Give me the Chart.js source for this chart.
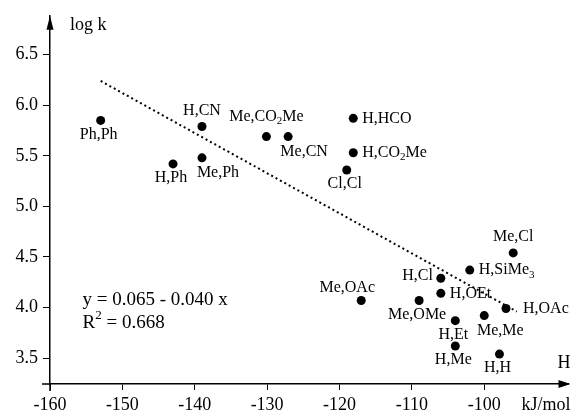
<!DOCTYPE html>
<html>
<head>
<meta charset="utf-8">
<script src="https://cdn.jsdelivr.net/npm/chart.js@4.4.1/dist/chart.umd.min.js"></script>
<style>
  html, body { margin: 0; padding: 0; background: #fff; }
</style>
</head>
<body>
<canvas id="chart" width="573" height="413"></canvas>
<script>
/* ---- Data ---- */
// substituent pairs; "_" marks a subscript character
const pairs = [
  'Ph,Ph', 'H,CN', 'H,Ph', 'Me,Ph', 'Me,CO_2Me', 'Me,CN', 'H,HCO',
  'H,CO_2Me', 'Cl,Cl', 'Me,Cl', 'H,SiMe_3', 'H,Cl', 'H,OEt', 'Me,OAc',
  'Me,OMe', 'H,OAc', 'Me,Me', 'H,Et', 'H,Me', 'H,H',
];
// energy (kJ/mol)
const energy = [
  -153.0, -139.0, -143.0, -139.0, -130.1, -127.1, -118.1,
  -118.1, -119.0, -96.0, -102.0, -106.0, -106.0, -117.0,
  -109.0, -97.0, -100.0, -104.0, -104.0, -97.9,
];
const logK = [
  5.85, 5.79, 5.42, 5.48, 5.69, 5.69, 5.87,
  5.53, 5.36, 4.54, 4.37, 4.29, 4.14, 4.07,
  4.07, 3.99, 3.92, 3.87, 3.62, 3.54,
];
// where each label sits around its point
const labelSpot = [
  'b', 'a', 'b', 'br', 'a', 'br', 'r',
  'r', 'b', 'a', 'r', 'l', 'r', 'al',
  'b', 'rr', 'br', 'b', 'b', 'b',
];

/* ---- Dotted regression line as drawn ---- */
const fitX = [-153.0, -95.5];
const fitY = [6.24, 3.96];
const fitText = ['y = 0.065 - 0.040 x', 'R^2 = 0.668'];

const xTicks = [-160, -150, -140, -130, -120, -110, -100];
const yTicks = [3.5, 4.0, 4.5, 5.0, 5.5, 6.0, 6.5];

const SERIF = '"Liberation Serif", "Times New Roman", serif';

/* ------------------------------------------------------------------ */
/*  Rich text helpers (sub / superscripts)                             */
/* ------------------------------------------------------------------ */

function richParts(str) {
  const parts = [];
  let buf = '';
  for (let i = 0; i < str.length; i++) {
    const c = str[i];
    if ((c === '_' || c === '^') && i + 1 < str.length) {
      if (buf) parts.push({ t: buf, k: 0 });
      buf = '';
      parts.push({ t: str[i + 1], k: c === '_' ? 1 : -1 });
      i++;
    } else {
      buf += c;
    }
  }
  if (buf) parts.push({ t: buf, k: 0 });
  return parts;
}

function drawRich(ctx, str, x, y, size, align) {
  const parts = richParts(str);
  const small = Math.round(size * 0.7);
  const fontFor = (k) => `${k ? small : size}px ${SERIF}`;
  let w = 0;
  for (const p of parts) {
    ctx.font = fontFor(p.k);
    p.w = ctx.measureText(p.t).width;
    w += p.w;
  }
  let cx = align === 'left' ? x : align === 'right' ? x - w : x - w / 2;
  ctx.textAlign = 'left';
  ctx.textBaseline = 'middle';
  for (const p of parts) {
    ctx.font = fontFor(p.k);
    const dy = p.k === 1 ? size * 0.3 : p.k === -1 ? -size * 0.35 : 0;
    ctx.fillText(p.t, cx, y + dy);
    cx += p.w;
  }
}

/* ---- Label placements relative to the marker ---- */
const SPOTS = {
  b:  { dx: -2,  dy: 14,  align: 'center' },
  a:  { dx: 0,   dy: -16, align: 'center' },
  br: { dx: 16,  dy: 15,  align: 'center' },
  al: { dx: -14, dy: -13, align: 'center' },
  r:  { dx: 9,   dy: 0,   align: 'left' },
  rr: { dx: 17,  dy: 0,   align: 'left' },
  l:  { dx: -8,  dy: -2,  align: 'right' },
};

const labelPlugin = {
  id: 'pointLabels',
  afterDatasetsDraw(chart) {
    const ctx = chart.ctx;
    const meta = chart.getDatasetMeta(0);
    ctx.save();
    ctx.fillStyle = '#000';
    meta.data.forEach((pt, i) => {
      const s = SPOTS[labelSpot[i]];
      let dy = s.dy;
      if (s.dy < 0 && pairs[i].includes('_')) dy -= 4;
      drawRich(ctx, pairs[i], pt.x + s.dx, pt.y + dy, 16, s.align);
    });
    ctx.restore();
  },
};

/* ---- Axis arrows, axis titles and fit text ---- */
const decorPlugin = {
  id: 'decor',
  afterDraw(chart) {
    const { ctx, chartArea: a, scales } = chart;
    ctx.save();
    ctx.fillStyle = '#000';
    ctx.strokeStyle = '#000';
    ctx.lineWidth = 1.5;

    // small overshoot of the axes past the origin
    ctx.beginPath();
    ctx.moveTo(a.left - 8, a.bottom);
    ctx.lineTo(a.left, a.bottom);
    ctx.moveTo(a.left, a.bottom);
    ctx.lineTo(a.left, a.bottom + 7);
    ctx.stroke();

    // y arrow
    ctx.beginPath();
    ctx.moveTo(a.left, a.top);
    ctx.lineTo(a.left - 3.5, a.top + 14);
    ctx.lineTo(a.left + 3.5, a.top + 14);
    ctx.closePath();
    ctx.fill();

    // x arrow
    ctx.beginPath();
    ctx.moveTo(a.right + 2, a.bottom);
    ctx.lineTo(a.right - 10, a.bottom - 4);
    ctx.lineTo(a.right - 10, a.bottom + 4);
    ctx.closePath();
    ctx.fill();

    // axis titles
    ctx.textBaseline = 'middle';
    ctx.textAlign = 'left';
    ctx.font = `18px ${SERIF}`;
    ctx.fillText('log k', a.left + 20, a.top + 9);
    ctx.textAlign = 'right';
    ctx.fillText('H', a.right + 2, a.bottom - 21);
    ctx.textBaseline = 'alphabetic';
    ctx.fillText('kJ/mol', a.right + 2, a.bottom + 26);

    // regression text
    const tx = scales.x.getPixelForValue(-155.5);
    drawRich(ctx, fitText[0], tx, scales.y.getPixelForValue(4.07), 19, 'left');
    drawRich(ctx, fitText[1], tx, scales.y.getPixelForValue(3.85), 19, 'left');
    ctx.restore();
  },
};

/* ---- Chart ---- */
const tickFont = { family: SERIF, size: 18 };

new Chart(document.getElementById('chart'), {
  type: 'scatter',
  data: {
    datasets: [
      {
        data: energy.map((x, i) => ({ x, y: logK[i] })),
        pointRadius: 4.5,
        pointHoverRadius: 4.5,
        backgroundColor: '#000',
        borderWidth: 0,
      },
      {
        data: fitX.map((x, i) => ({ x, y: fitY[i] })),
        showLine: true,
        pointRadius: 0,
        borderColor: '#000',
        borderWidth: 2,
        borderDash: [2, 3],
        fill: false,
      },
    ],
  },
  options: {
    responsive: false,
    devicePixelRatio: 1,
    animation: false,
    layout: { padding: { top: 14, left: 0, right: 0, bottom: 0 } },
    plugins: { legend: { display: false }, tooltip: { enabled: false } },
    scales: {
      x: {
        type: 'linear',
        min: -160,
        max: -88.36,
        afterBuildTicks: (s) => { s.ticks = xTicks.map((value) => ({ value })); },
        afterFit: (s) => { s.height = 29; },
        grid: { display: true, drawOnChartArea: false, drawTicks: true, tickLength: 6, color: '#000', lineWidth: 1 },
        border: { display: true, color: '#000', width: 1.5 },
        ticks: { font: tickFont, color: '#000', padding: 4, maxRotation: 0, callback: (v) => String(v) },
      },
      y: {
        min: 3.244,
        max: 6.884,
        afterBuildTicks: (s) => { s.ticks = yTicks.map((value) => ({ value })); },
        afterFit: (s) => { s.width = 50; },
        grid: { display: true, drawOnChartArea: false, drawTicks: true, tickLength: 7, color: '#000', lineWidth: 1 },
        border: { display: true, color: '#000', width: 1.5 },
        ticks: { font: tickFont, color: '#000', padding: 5, callback: (v) => Number(v).toFixed(1) },
      },
    },
  },
  plugins: [labelPlugin, decorPlugin],
});
</script>
</body>
</html>
